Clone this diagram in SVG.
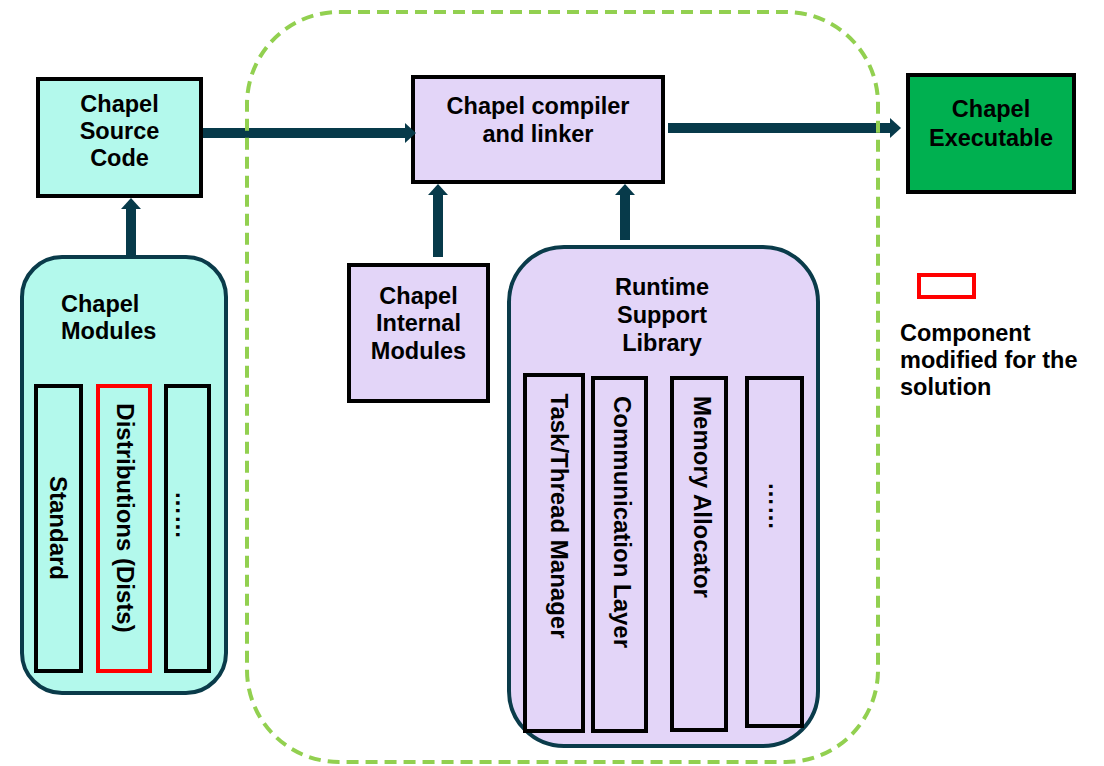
<svg xmlns="http://www.w3.org/2000/svg" width="1104" height="766" viewBox="0 0 1104 766">
  <style>
    .lbl { font-family: "Liberation Sans", Arial, sans-serif; font-weight: bold; font-size: 23.5px; fill: #000; }
    .mid { text-anchor: middle; }
    .vlbl { font-family: "Liberation Sans", Arial, sans-serif; font-weight: bold; font-size: 24px; fill: #000; text-anchor: middle; }
    .box { stroke: #000; stroke-width: 4; }
    .aqua { fill: #B3F9EC; }
    .lav { fill: #E3D5F8; }
    .group { stroke: #0A3B4A; stroke-width: 4; }
    .col { fill: none; stroke: #000; stroke-width: 4; }
    .mod { fill: none; stroke: #FF0000; stroke-width: 4; }
    .conn { stroke: #073A4A; stroke-width: 10; fill: none; marker-end: url(#head); }
    .boundary { fill: none; stroke: #92D050; stroke-width: 4; stroke-dasharray: 12 7; }
  </style>
  <defs>
    <marker id="head" markerUnits="userSpaceOnUse" markerWidth="12" markerHeight="20" refX="1" refY="10" orient="auto" viewBox="0 0 12 20">
      <path d="M0,0 L11,10 L0,20 Z" fill="#073A4A"/>
    </marker>
  </defs>

  <rect width="1104" height="766" fill="#fff"/>

  <!-- Source code -->
  <g id="source">
    <rect class="box aqua" x="38" y="79" width="163" height="117"/>
    <text class="lbl mid" x="119.5" y="112">Chapel</text>
    <text class="lbl mid" x="119.5" y="139">Source</text>
    <text class="lbl mid" x="119.5" y="166">Code</text>
  </g>

  <!-- Compiler -->
  <g id="compiler">
    <rect class="box lav" x="413" y="77" width="250" height="105"/>
    <text class="lbl mid" x="538" y="114">Chapel compiler</text>
    <text class="lbl mid" x="538" y="142">and linker</text>
  </g>

  <!-- Executable -->
  <g id="executable">
    <rect class="box" fill="#00B050" x="908" y="75" width="166" height="117"/>
    <text class="lbl mid" x="991" y="117">Chapel</text>
    <text class="lbl mid" x="991" y="146">Executable</text>
  </g>

  <!-- Internal modules -->
  <g id="internal-modules">
    <rect class="box lav" x="349" y="265" width="139" height="136"/>
    <text class="lbl mid" x="418.5" y="304">Chapel</text>
    <text class="lbl mid" x="418.5" y="331">Internal</text>
    <text class="lbl mid" x="418.5" y="359">Modules</text>
  </g>

  <!-- Chapel modules -->
  <g id="modules">
    <rect class="group aqua" x="22" y="257" width="204" height="436" rx="40"/>
    <text class="lbl" x="61" y="312">Chapel</text>
    <text class="lbl" x="61" y="339">Modules</text>
    <g id="mod-standard">
      <rect class="col" x="36" y="386" width="45" height="285"/>
      <text class="vlbl" transform="translate(58,528) rotate(90)" y="8">Standard</text>
    </g>
    <g id="mod-dists">
      <rect class="mod" x="98" y="386" width="52" height="285"/>
      <text class="vlbl" transform="translate(125,518) rotate(90)" y="8">Distributions (Dists)</text>
    </g>
    <g id="mod-more">
      <rect class="col" x="166" y="386" width="43" height="285"/>
      <text class="vlbl" transform="translate(176,515) rotate(90)" y="0">……</text>
    </g>
  </g>

  <!-- Runtime support library -->
  <g id="runtime">
    <rect class="group lav" x="509" y="247" width="309" height="499" rx="55"/>
    <text class="lbl mid" x="662" y="295">Runtime</text>
    <text class="lbl mid" x="662" y="323">Support</text>
    <text class="lbl mid" x="662" y="351">Library</text>
    <g id="rt-tasks">
      <rect class="col" x="525" y="375" width="58" height="356"/>
      <text class="vlbl" transform="translate(559,516) rotate(90)" y="8">Task/Thread Manager</text>
    </g>
    <g id="rt-comm">
      <rect class="col" x="593" y="378" width="53" height="353"/>
      <text class="vlbl" transform="translate(622,522) rotate(90)" y="8">Communication Layer</text>
    </g>
    <g id="rt-mem">
      <rect class="col" x="672" y="378" width="54" height="352"/>
      <text class="vlbl" transform="translate(702,497) rotate(90)" y="8">Memory Allocator</text>
    </g>
    <g id="rt-more">
      <rect class="col" x="747" y="378" width="55" height="348"/>
      <text class="vlbl" transform="translate(769,506) rotate(90)" y="0">……</text>
    </g>
  </g>

  <!-- Legend -->
  <g id="legend">
    <rect class="mod" x="919" y="275" width="55" height="22"/>
    <text class="lbl" x="900" y="341">Component</text>
    <text class="lbl" x="900" y="368">modified for the</text>
    <text class="lbl" x="900" y="395">solution</text>
  </g>

  <!-- Connectors -->
  <g id="connectors">
    <line class="conn" x1="203" y1="133" x2="406" y2="133"/>
    <line class="conn" x1="668" y1="128" x2="891" y2="128"/>
    <line class="conn" x1="131" y1="257" x2="131" y2="208"/>
    <line class="conn" x1="438" y1="257" x2="438" y2="194"/>
    <line class="conn" x1="625" y1="240" x2="625" y2="194"/>
  </g>

  <!-- Compilation boundary -->
  <g id="boundary">
    <rect class="boundary" x="247" y="12" width="631" height="750" rx="92"/>
  </g>
</svg>
